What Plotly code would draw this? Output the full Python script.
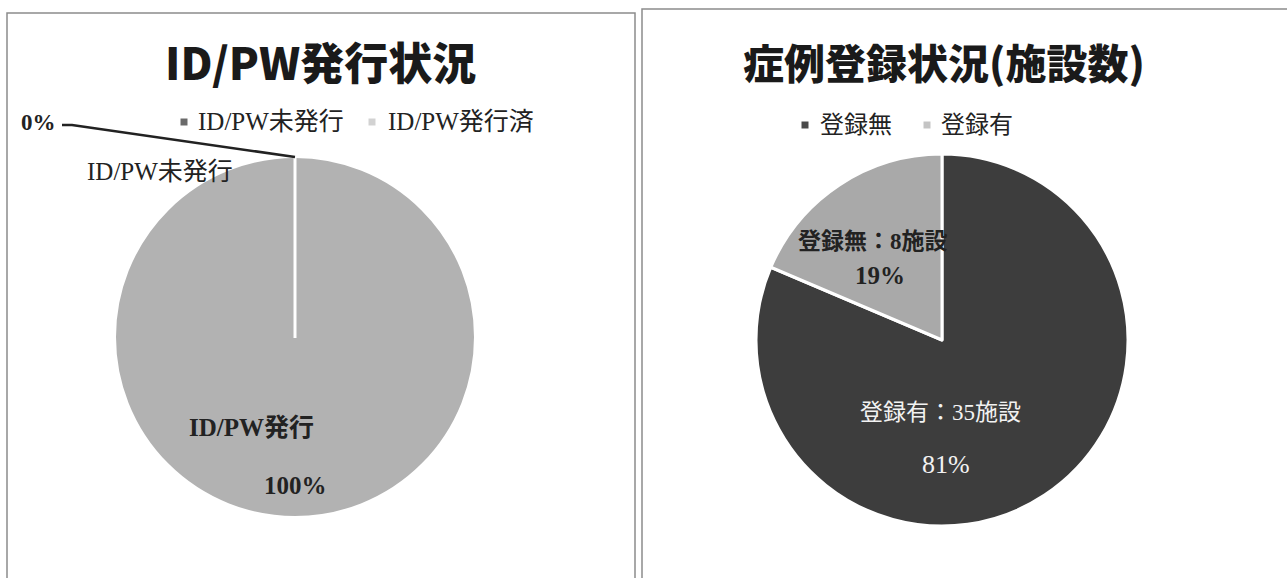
import plotly.graph_objects as go

W, H = 1287, 578

# ---------------- data ----------------
left_title = "ID/PW発行状況"
left_labels = ["ID/PW未発行", "ID/PW発行済"]
left_slice_names = ["ID/PW未発行", "ID/PW発行"]
left_values = [0, 100]
left_colors = ["#5a5a5a", "#b2b2b2"]
left_legend_colors = ["#6a6a6a", "#d2d2d2"]

right_title = "症例登録状況(施設数)"
right_labels = ["登録有", "登録無"]
right_values = [35, 8]
right_colors = ["#3d3d3d", "#a9a9a9"]
right_legend_labels = ["登録無", "登録有"]
right_legend_colors = ["#4a4a4a", "#c4c4c4"]
unit = "施設"


def px(x):
    return x / W


def py(y):
    return 1 - y / H


def pct(vals):
    s = sum(vals)
    return [round(v * 100 / s) for v in vals]


SERIF = "Liberation Serif, Noto Sans CJK JP, serif"
SANS_B = "Noto Sans CJK JP, Liberation Sans, sans-serif"

fig = go.Figure()

# left pie: center (295,337), r 180
fig.add_trace(go.Pie(
    labels=left_labels, values=left_values, sort=False, direction="clockwise",
    rotation=0, marker=dict(colors=left_colors, line=dict(color="white", width=2)),
    textinfo="none", hoverinfo="label+value+percent", showlegend=False,
    domain=dict(x=[px(115), px(475)], y=[py(517), py(157)]),
))

# right pie: center (942,340), r 186
fig.add_trace(go.Pie(
    labels=right_labels, values=right_values, sort=False, direction="clockwise",
    rotation=0, marker=dict(colors=right_colors, line=dict(color="white", width=3)),
    textinfo="none", hoverinfo="label+value+percent", showlegend=False,
    domain=dict(x=[px(756), px(1128)], y=[py(526), py(154)]),
))

shapes = []
# panel borders
shapes.append(dict(type="rect", xref="paper", yref="paper", x0=px(7), x1=px(635),
                   y0=py(610), y1=py(13), line=dict(color="#8c8c8c", width=1.5)))
shapes.append(dict(type="rect", xref="paper", yref="paper", x0=px(642), x1=px(1300),
                   y0=py(610), y1=py(9), line=dict(color="#8c8c8c", width=1.5)))
# 0% slice boundary on left pie
shapes.append(dict(type="line", xref="paper", yref="paper", x0=px(295), x1=px(295),
                   y0=py(157), y1=py(338), line=dict(color="white", width=3)))
# leader line for 0% label
shapes.append(dict(type="path", xref="paper", yref="paper",
                   path=f"M {px(62)} {py(125)} L {px(72)} {py(125)} L {px(295)} {py(157)}",
                   line=dict(color="#222222", width=2.5)))

# legend squares
def square(cx, cy, color, s=7):
    return dict(type="rect", xref="paper", yref="paper",
                x0=px(cx - s / 2), x1=px(cx + s / 2), y0=py(cy + s / 2), y1=py(cy - s / 2),
                fillcolor=color, line=dict(width=0))

left_leg_x = [184, 372]
left_leg_tx = [196, 386]
for c, x in zip(left_legend_colors, left_leg_x):
    shapes.append(square(x, 122, c))
right_leg_x = [805, 927]
right_leg_tx = [818, 939]
for c, x in zip(right_legend_colors, right_leg_x):
    shapes.append(square(x, 125, c))

ann = []


def text(x, y, t, size, color="#222", family=SERIF, bold=False, xanchor="center", weight=None):
    font = dict(size=size, color=color, family=family)
    if weight is not None:
        font["weight"] = weight
    elif bold:
        font["weight"] = "bold"
    ann.append(dict(x=px(x), y=py(y), xref="paper", yref="paper", text=t, showarrow=False,
                    xanchor=xanchor, yanchor="middle", font=font))


# titles
text(320, 61, left_title, 44, "#1a1a1a", SANS_B, weight=900)
text(944, 61, right_title, 41, "#1a1a1a", SANS_B, weight=900)

# legends
for lab, x in zip(left_labels, left_leg_tx):
    text(x, 121, lab, 25, "#222", SERIF, xanchor="left")
for lab, x in zip(right_legend_labels, right_leg_tx):
    text(x, 125, lab, 24, "#222", SERIF, xanchor="left")

# left pie labels
lp = pct(left_values)
text(38, 122, f"{lp[0]}%", 23, "#222", SERIF, bold=True)
text(160, 171, left_slice_names[0], 25, "#222", SERIF)
text(251, 427, left_slice_names[1], 25, "#222", SERIF, bold=True)
text(295, 485, f"{lp[1]}%", 25, "#222", SERIF, bold=True)

# right pie labels
rp = pct(right_values)
text(940, 412, f"{right_labels[0]}：{right_values[0]}{unit}", 23, "#f2f2f2", SERIF)
text(946, 464, f"{rp[0]}%", 26, "#f2f2f2", SERIF)
text(873, 241, f"{right_labels[1]}：{right_values[1]}{unit}", 23, "#222", SERIF, bold=True)
text(880, 275, f"{rp[1]}%", 25, "#222", SERIF, bold=True)

fig.update_layout(
    width=W, height=H, margin=dict(l=0, r=0, t=0, b=0),
    paper_bgcolor="white", plot_bgcolor="white",
    shapes=shapes, annotations=ann, showlegend=False,
)

fig.write_html("out.html")
